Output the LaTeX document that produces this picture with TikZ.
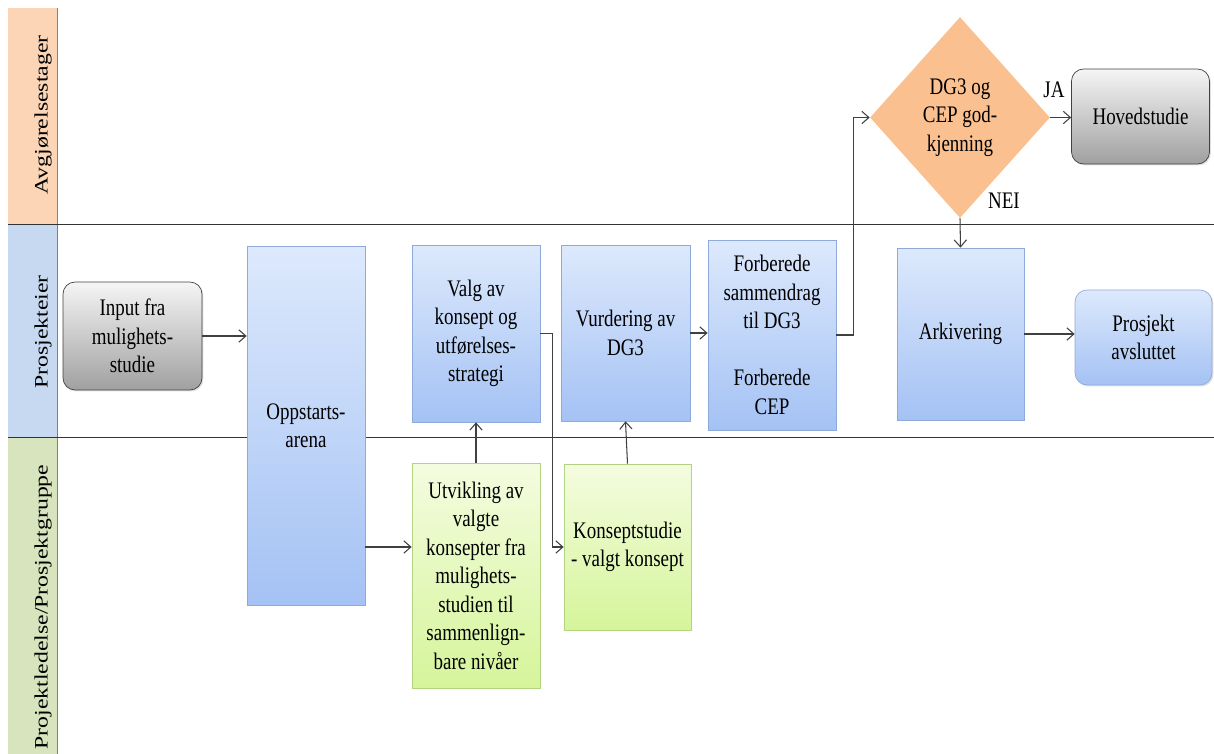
\documentclass[tikz,border=0pt]{standalone}
\usepackage{fontspec}
\setmainfont{Liberation Serif}[FakeStretch=0.8]
\newfontfamily\banefont{Liberation Serif}[FakeStretch=1.25]
\usetikzlibrary{shapes.geometric,arrows.meta,shadows}

\definecolor{baneoransje}{HTML}{FBD5B5}
\definecolor{baneblaa}{HTML}{C6D9F1}
\definecolor{banegronn}{HTML}{D7E4BD}
\definecolor{blaatopp}{HTML}{DDE9FC}
\definecolor{blaabunn}{HTML}{A4C2F4}
\definecolor{blaakant}{HTML}{8EAADB}
\definecolor{gronntopp}{HTML}{F4FCE0}
\definecolor{gronnbunn}{HTML}{D5F59A}
\definecolor{gronnkant}{HTML}{B3D282}
\definecolor{graatopp}{HTML}{F5F5F5}
\definecolor{graabunn}{HTML}{A0A0A0}
\definecolor{oransje}{HTML}{FAC090}

\tikzset{
  tekst/.style={font=\fontsize{13.5}{16.2}\selectfont, align=center, inner sep=0pt},
  banetekst/.style={rotate=90, font=\banefont\fontsize{10.8}{13}\selectfont},
  skygge/.style={drop shadow={shadow xshift=0.8pt, shadow yshift=-0.8pt, opacity=0.25}},
  blaaboks/.style={tekst, rectangle, draw=blaakant, top color=blaatopp, bottom color=blaabunn, skygge},
  gronnboks/.style={tekst, rectangle, draw=gronnkant, top color=gronntopp, bottom color=gronnbunn, skygge},
  graaboks/.style={tekst, rectangle, rounded corners=0.24cm, draw=black!75, top color=graatopp, bottom color=graabunn, skygge},
  rundblaa/.style={blaaboks, rounded corners=0.24cm},
  beslutning/.style={tekst, diamond, fill=oransje},
  pil/.style={-{Straight Barb[length=4pt,width=7pt]}, draw=black!75, line width=0.6pt}
}

\begin{document}
\begin{tikzpicture}[x=0.02cm, y=-0.02cm]
\useasboundingbox (0,0) rectangle (1214,754);

% Baner
\fill[baneoransje] (8,8) rectangle (57,224);
\fill[baneblaa] (8,224) rectangle (57,437);
\fill[banegronn] (8,437) rectangle (57,754);
\draw[black!50] (57,8) -- (57,754);
\draw[black!80] (8,224) -- (1214,224);
\draw[black!80] (8,437) -- (1214,437);

\node[banetekst] (bane1) at (43,115) {Avgjørelsestager};
\node[banetekst] (bane2) at (43,332) {Prosjekteier};
\node[banetekst] (bane3) at (43,607) {Projektledelse/Prosjektgruppe};

% Noder
\node[graaboks, minimum width=2.78cm, minimum height=2.16cm] (input) at (132.5,336) {Input fra\\mulighets-\\studie};
\node[blaaboks, minimum width=2.36cm, minimum height=7.18cm] (oppstart) at (306,425.5) {Oppstarts-\\arena};
\node[blaaboks, minimum width=2.56cm, minimum height=3.54cm] (valg) at (476,333.5) {Valg av\\konsept og\\utførelses-\\strategi};
\node[gronnboks, minimum width=2.56cm, minimum height=4.5cm] (utvikling) at (476,575.5) {Utvikling av\\valgte\\konsepter fra\\mulighets-\\studien til\\sammenlign-\\bare nivåer};
\node[blaaboks, minimum width=2.58cm, minimum height=3.52cm] (vurdering) at (625.5,333) {Vurdering av\\DG3};
\node[gronnboks, minimum width=2.54cm, minimum height=3.32cm] (konsept) at (627.5,547) {Konseptstudie\\- valgt konsept};
\node[blaaboks, minimum width=2.56cm, minimum height=3.8cm] (forbered) at (772,335) {Forberede\\sammendrag\\til DG3\\[16.2pt]Forberede\\CEP};
\node[beslutning, minimum width=3.6cm, minimum height=4.02cm] (godkjenning) at (960,117.5) {DG3 og\\CEP god-\\kjenning};
\node[graaboks, minimum width=2.76cm, minimum height=1.9cm] (hoved) at (1140.5,116.5) {Hovedstudie};
\node[blaaboks, minimum width=2.54cm, minimum height=3.44cm] (arkiv) at (960.5,334) {Arkivering};
\node[rundblaa, minimum width=2.74cm, minimum height=1.9cm] (avsluttet) at (1143.5,337.5) {Prosjekt\\avsluttet};

\node[tekst] (ja) at (1054,90) {JA};
\node[tekst] (nei) at (1004,201) {NEI};

% Piler
\draw[pil] (input.east) -- (input.east -| oppstart.west);
\draw[pil] (oppstart.east |- konsept.west) -- (utvikling.west |- konsept.west);
\draw[pil] (utvikling.north) -- (valg.south);
\draw[pil] (valg.east) -- ++(12,0) |- (konsept.west);
\draw[pil] (konsept.north) -- (vurdering.south);
\draw[pil] (vurdering.east) -- (vurdering.east -| forbered.west);
\draw[pil] (forbered.east) -- ++(17,0) |- (godkjenning.west);
\draw[pil] (godkjenning.east) -- (godkjenning.east -| hoved.west);
\draw[pil] (godkjenning.south) -- (arkiv.north);
\draw[pil] (arkiv.east) -- (arkiv.east -| avsluttet.west);

\end{tikzpicture}
\end{document}
